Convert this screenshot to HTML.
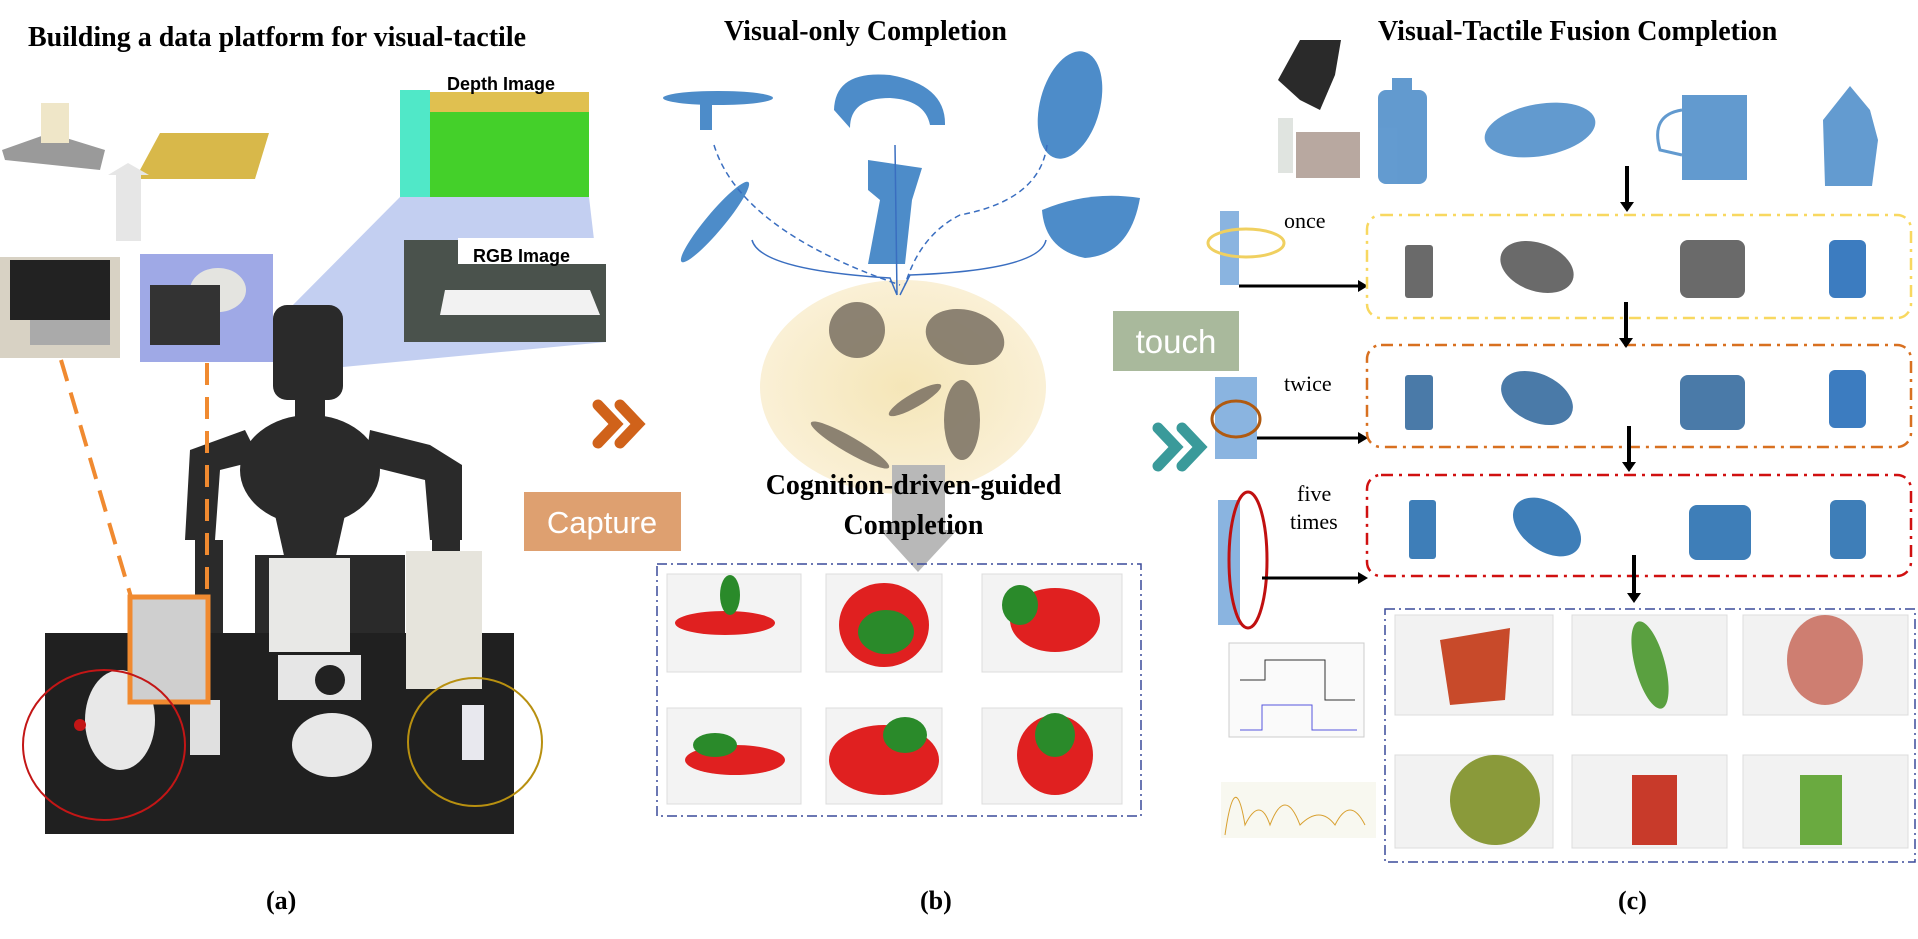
<!DOCTYPE html>
<html><head><meta charset="utf-8"><style>
body{margin:0;width:1918px;height:939px;background:#fff;position:relative;overflow:hidden;font-family:"Liberation Serif",serif}
.t{position:absolute;font-weight:bold;color:#000;white-space:nowrap}
</style></head><body>
<svg style="position:absolute;left:0;top:0" width="1918" height="939">
<defs>
<radialGradient id="yg"><stop offset="0" stop-color="#f5e6b8"/><stop offset="1" stop-color="#faf0d6"/></radialGradient>
</defs>
<g>
<polygon points="286,312 400,197 400,90 589,197 606,342 343,367" fill="#b9c7ee" opacity="0.85"/>
<polygon points="2,150 50,133 105,150 100,170 5,160" fill="#9a9a9a"/>
<rect x="41" y="103" width="28" height="40" fill="#efe6c8"/>
<polygon points="140,170 160,133 269,133 255,179 137,179" fill="#d8b84a"/>
<rect x="116" y="175" width="25" height="66" fill="#e6e6e6"/>
<polygon points="108,175 128,163 149,175" fill="#e6e6e6"/>
<rect x="0" y="257" width="120" height="101" fill="#d8d2c4"/><rect x="10" y="260" width="100" height="60" fill="#222"/>
<rect x="30" y="320" width="80" height="25" fill="#aaa"/>
<rect x="140" y="254" width="133" height="108" fill="#9fa9e6"/><ellipse cx="218" cy="290" rx="28" ry="22" fill="#e4e4e0"/>
<rect x="150" y="285" width="70" height="60" fill="#333"/>
<rect x="400" y="90" width="189" height="107" fill="#44d02a"/>
<polygon points="400,90 430,90 430,197 400,197" fill="#50e8c8"/>
<rect x="430" y="90" width="159" height="22" fill="#e0c050"/>
<rect x="430" y="70" width="160" height="22" fill="#fff"/>
<text x="447" y="90" font-family="Liberation Sans" font-weight="bold" font-size="18">Depth Image</text>
<rect x="404" y="240" width="202" height="102" fill="#4a524c"/><polygon points="445,290 590,290 600,315 440,315" fill="#f2f2f2"/>
<rect x="458" y="238" width="148" height="26" fill="#fff"/>
<text x="473" y="262" font-family="Liberation Sans" font-weight="bold" font-size="18">RGB Image</text>
<g fill="#2a2a2a">
<rect x="273" y="305" width="70" height="95" rx="14"/>
<rect x="295" y="395" width="30" height="30"/>
<ellipse cx="310" cy="470" rx="70" ry="55"/>
<polygon points="265,470 355,470 335,560 285,560"/>
<path d="M245,430 L190,450 L185,540 L215,540 L220,470 L260,460Z"/>
<path d="M370,430 L430,445 L462,465 L462,540 L430,540 L425,480 L365,465Z"/>
<rect x="195" y="540" width="28" height="95"/><rect x="432" y="540" width="28" height="80"/>
<rect x="255" y="555" width="150" height="80"/>
</g>
<rect x="45" y="633" width="469" height="201" fill="#202020"/>
<rect x="269" y="558" width="81" height="94" fill="#e8e8e6"/>
<rect x="406" y="551" width="76" height="138" fill="#e6e4dc"/>
<rect x="278" y="655" width="83" height="45" fill="#e6e6e6"/><circle cx="330" cy="680" r="15" fill="#222"/>
<ellipse cx="332" cy="745" rx="40" ry="32" fill="#e8e8e8"/>
<ellipse cx="120" cy="720" rx="35" ry="50" fill="#e8e8e8"/>
<rect x="190" y="700" width="30" height="55" fill="#e0e0e0"/>
<rect x="130" y="597" width="78" height="105" fill="#cfcfcf"/>
<rect x="130" y="597" width="78" height="105" fill="none" stroke="#f08a30" stroke-width="5"/>
<line x1="61" y1="360" x2="131" y2="597" stroke="#f08a30" stroke-width="4" stroke-dasharray="22,12"/>
<line x1="207" y1="363" x2="207" y2="597" stroke="#f08a30" stroke-width="4" stroke-dasharray="22,12"/>
<ellipse cx="104" cy="745" rx="81" ry="75" fill="none" stroke="#c31616" stroke-width="2"/>
<circle cx="80" cy="725" r="6" fill="#c31616"/>
<ellipse cx="475" cy="742" rx="67" ry="64" fill="none" stroke="#b89010" stroke-width="2"/>
<rect x="462" y="705" width="22" height="55" fill="#e8e8ee"/>
</g>
<path d="M598,405 l18,19 l-18,19 M620,405 l18,19 l-18,19" stroke="#d0621a" stroke-width="11" fill="none" stroke-linecap="round"/>
<path d="M1158,428 l18,19 l-18,19 M1182,428 l18,19 l-18,19" stroke="#3a9a9a" stroke-width="11" fill="none" stroke-linecap="round"/>
<rect x="524" y="492" width="157" height="59" fill="#dea070"/>
<text x="602" y="533" text-anchor="middle" font-family="Liberation Sans" font-size="31" fill="#fff">Capture</text>
<rect x="1113" y="311" width="126" height="60" fill="#a9b99c"/>
<text x="1176" y="353" text-anchor="middle" font-family="Liberation Sans" font-size="33" fill="#fff">touch</text>
<g>
<ellipse cx="903" cy="387" rx="143" ry="107" fill="url(#yg)"/>
<g fill="#2e78c0" opacity="0.85">
<ellipse cx="718" cy="98" rx="55" ry="7"/><rect x="700" y="100" width="12" height="30"/>
<path d="M834,110 Q835,70 890,75 Q946,85 945,125 L930,125 Q925,100 890,98 Q850,98 850,128Z"/>
<ellipse cx="1070" cy="105" rx="30" ry="55" transform="rotate(15 1070 105)"/>
<ellipse cx="715" cy="222" rx="52" ry="9" transform="rotate(-50 715 222)"/>
<path d="M868,160 L922,168 L912,200 L905,264 L868,264 L880,200 L868,190Z"/>
<path d="M1042,210 Q1090,190 1140,198 Q1130,255 1085,258 Q1045,250 1042,210Z"/>
</g>
<path d="M714,145 Q740,230 900,285 M1047,145 Q1040,200 960,215 Q920,235 905,285" stroke="#3a6ec0" stroke-width="1.5" fill="none" stroke-dasharray="6,4"/>
<path d="M752,240 Q760,270 890,278 L897,295 M1046,240 Q1040,270 910,275 L900,295 M895,145 L897,295" stroke="#3a6ec0" stroke-width="1.5" fill="none"/>
<g fill="#7a7062" opacity="0.85">
<ellipse cx="857" cy="330" rx="28" ry="28"/>
<ellipse cx="965" cy="337" rx="40" ry="27" transform="rotate(15 965 337)"/>
<ellipse cx="962" cy="420" rx="18" ry="40"/>
<ellipse cx="915" cy="400" rx="30" ry="7" transform="rotate(-30 915 400)"/>
<ellipse cx="850" cy="445" rx="45" ry="8" transform="rotate(30 850 445)"/>
</g>
<polygon points="892,465 945,465 945,530 957,530 918,572 880,530 892,530" fill="#b8b8b8"/>
<rect x="657" y="564" width="484" height="252" fill="none" stroke="#3a4a9a" stroke-width="1.5" stroke-dasharray="10,4,2,4"/>
<g fill="#f3f3f3" stroke="#ddd">
<rect x="667" y="574" width="134" height="98"/><rect x="826" y="574" width="116" height="98"/><rect x="982" y="574" width="140" height="98"/>
<rect x="667" y="708" width="134" height="96"/><rect x="826" y="708" width="116" height="96"/><rect x="982" y="708" width="140" height="96"/>
</g>
<ellipse cx="725" cy="623" rx="50" ry="12" fill="#e02020"/><ellipse cx="730" cy="595" rx="10" ry="20" fill="#2a8a2a"/>
<ellipse cx="884" cy="625" rx="45" ry="42" fill="#e02020"/><ellipse cx="886" cy="632" rx="28" ry="22" fill="#2a8a2a"/>
<ellipse cx="1055" cy="620" rx="45" ry="32" fill="#e02020"/><ellipse cx="1020" cy="605" rx="18" ry="20" fill="#2a8a2a"/>
<ellipse cx="735" cy="760" rx="50" ry="15" fill="#e02020"/><ellipse cx="715" cy="745" rx="22" ry="12" fill="#2a8a2a"/>
<ellipse cx="884" cy="760" rx="55" ry="35" fill="#e02020"/><ellipse cx="905" cy="735" rx="22" ry="18" fill="#2a8a2a"/>
<ellipse cx="1055" cy="755" rx="38" ry="40" fill="#e02020"/><ellipse cx="1055" cy="735" rx="20" ry="22" fill="#2a8a2a"/>
</g>
<g>
<path d="M1300,40 L1341,40 L1335,75 L1320,110 L1300,100 L1278,80Z" fill="#2a2a2a"/>
<rect x="1296" y="132" width="64" height="46" fill="#b8a8a0"/>
<rect x="1278" y="118" width="15" height="55" fill="#e0e4e0"/>
<g fill="#3c82c4" opacity="0.8">
<rect x="1378" y="90" width="49" height="94" rx="8"/><rect x="1392" y="78" width="20" height="14"/>
<ellipse cx="1540" cy="130" rx="56" ry="26" transform="rotate(-10 1540 130)"/>
<rect x="1682" y="95" width="65" height="85"/><path d="M1682,110 Q1650,115 1660,150 L1682,155" stroke="#3c82c4" stroke-width="3" fill="none"/>
<path d="M1850,86 L1870,110 L1878,140 L1872,186 L1825,186 L1823,120Z"/>
</g>
<rect x="1220" y="211" width="19" height="74" fill="#8ab4e0"/>
<ellipse cx="1246" cy="243" rx="38" ry="14" fill="none" stroke="#f0d060" stroke-width="3"/>
<line x1="1239" y1="286" x2="1360" y2="286" stroke="#000" stroke-width="3"/><polygon points="1358,280 1368,286 1358,292" fill="#000"/>
<rect x="1215" y="377" width="42" height="82" fill="#8ab4e0"/>
<ellipse cx="1236" cy="419" rx="24" ry="18" fill="none" stroke="#b05a10" stroke-width="3"/>
<line x1="1257" y1="438" x2="1360" y2="438" stroke="#000" stroke-width="3"/><polygon points="1358,432 1368,438 1358,444" fill="#000"/>
<rect x="1218" y="500" width="22" height="125" fill="#8ab4e0"/>
<ellipse cx="1248" cy="560" rx="19" ry="68" fill="none" stroke="#c01010" stroke-width="3"/>
<line x1="1262" y1="578" x2="1360" y2="578" stroke="#000" stroke-width="3"/><polygon points="1358,572 1368,578 1358,584" fill="#000"/>
<text x="1284" y="228" font-size="22">once</text>
<text x="1284" y="391" font-size="22">twice</text>
<text x="1297" y="501" font-size="22">five</text><text x="1290" y="529" font-size="22">times</text>
<rect x="1367" y="215" width="544" height="103" rx="14" fill="none" stroke="#f8d860" stroke-width="2.5" stroke-dasharray="12,6,3,6"/>
<rect x="1367" y="345" width="544" height="102" rx="14" fill="none" stroke="#d87020" stroke-width="2.5" stroke-dasharray="12,6,3,6"/>
<rect x="1367" y="475" width="544" height="101" rx="14" fill="none" stroke="#d01010" stroke-width="2.5" stroke-dasharray="12,6,3,6"/>
<g fill="#6a6a6a"><rect x="1405" y="245" width="28" height="53" rx="3"/><ellipse cx="1537" cy="267" rx="38" ry="24" transform="rotate(20 1537 267)"/><rect x="1680" y="240" width="65" height="58" rx="8"/></g>
<rect x="1829" y="240" width="37" height="58" rx="6" fill="#3c7cc0"/>
<g fill="#4a7aa8"><rect x="1405" y="375" width="28" height="55" rx="3"/><ellipse cx="1537" cy="398" rx="38" ry="24" transform="rotate(25 1537 398)"/><rect x="1680" y="375" width="65" height="55" rx="8"/></g>
<rect x="1829" y="370" width="37" height="58" rx="6" fill="#3c7cc0"/>
<g fill="#3e7eb8"><rect x="1409" y="500" width="27" height="59" rx="3"/><ellipse cx="1547" cy="527" rx="38" ry="24" transform="rotate(35 1547 527)"/><rect x="1689" y="505" width="62" height="55" rx="8"/><rect x="1830" y="500" width="36" height="59" rx="6"/></g>
<path d="M1627,166 v38 M1626,302 v38 M1629,426 v38 M1634,555 v40" stroke="#000" stroke-width="4"/>
<path d="M1620,202 l7,10 l7,-10Z M1619,338 l7,10 l7,-10Z M1622,462 l7,10 l7,-10Z M1627,593 l7,10 l7,-10Z" fill="#000"/>
<rect x="1385" y="609" width="530" height="253" fill="none" stroke="#3a4a9a" stroke-width="1.5" stroke-dasharray="10,4,2,4"/>
<g fill="#f2f2f2" stroke="#ddd">
<rect x="1395" y="615" width="158" height="100"/><rect x="1572" y="615" width="155" height="100"/><rect x="1743" y="615" width="165" height="100"/>
<rect x="1395" y="755" width="158" height="93"/><rect x="1572" y="755" width="155" height="93"/><rect x="1743" y="755" width="165" height="93"/>
</g>
<path d="M1440,640 L1510,628 L1505,700 L1450,705Z" fill="#c84a2a"/>
<ellipse cx="1650" cy="665" rx="15" ry="45" fill="#5aa040" transform="rotate(-15 1650 665)"/>
<ellipse cx="1825" cy="660" rx="38" ry="45" fill="#c86a5a" opacity="0.85"/>
<ellipse cx="1495" cy="800" rx="45" ry="45" fill="#8a9a3a" transform="rotate(20 1495 800)"/>
<rect x="1632" y="775" width="45" height="70" fill="#c83a2a"/><rect x="1800" y="775" width="42" height="70" fill="#6aaa40"/>
<rect x="1229" y="643" width="135" height="94" fill="#fafafa" stroke="#ccc"/>
<path d="M1240,680 h25 v-20 h60 v40 h30" stroke="#333" fill="none"/>
<path d="M1240,730 h22 v-25 h50 v25 h45" stroke="#55d" fill="none"/>
<rect x="1221" y="782" width="155" height="56" fill="#f8f8f0"/>
<path d="M1225,835 q10,-70 20,-10 q15,-30 25,0 q15,-40 30,0 q20,-20 35,0 q15,-30 30,0" stroke="#d8a030" fill="none"/>
</g>
</svg>
<div class="t" style="left:28px;top:22px;font-size:28px">Building a data platform for visual-tactile</div>
<div class="t" style="left:724px;top:16px;font-size:28px">Visual-only Completion</div>
<div class="t" style="left:1378px;top:16px;font-size:28px">Visual-Tactile Fusion Completion</div>
<div class="t" style="left:740px;top:466px;width:347px;font-size:28px;text-align:center;line-height:40px">Cognition-driven-guided<br>Completion</div>
<div class="t" style="left:266px;top:886px;font-size:26px">(a)</div>
<div class="t" style="left:920px;top:886px;font-size:26px">(b)</div>
<div class="t" style="left:1618px;top:886px;font-size:26px">(c)</div>
</body></html>
